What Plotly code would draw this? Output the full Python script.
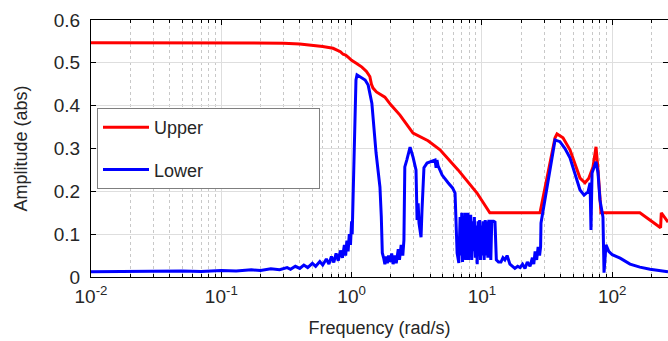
import plotly.graph_objects as go

# ---- data ----
upper_freq = [0.01, 0.1, 0.2, 0.3, 0.4, 0.5, 0.6, 0.72, 0.78, 0.82, 0.86, 0.9, 0.95, 1.0,
              1.1, 1.2, 1.3, 1.38, 1.42, 1.46, 1.55, 1.65, 1.8, 2.0, 2.35, 2.96, 3.5, 3.86,
              4.77, 6.56, 9.17, 11.5, 27.9, 30.5, 33.3, 36.4, 37.7, 39.7, 41.9, 47.4, 56.6,
              61.8, 66.0, 71.2, 73.5, 75.1, 77.8, 80.0, 82.0, 163.0, 235.0, 238.0, 268.0]
upper_amp = [0.547, 0.547, 0.547, 0.546, 0.544, 0.541, 0.538, 0.534, 0.530, 0.526, 0.520,
             0.518, 0.512, 0.506, 0.498, 0.490, 0.480, 0.468, 0.450, 0.441, 0.432, 0.427,
             0.420, 0.402, 0.378, 0.336, 0.324, 0.318, 0.297, 0.250, 0.196, 0.150, 0.150,
             0.210, 0.273, 0.325, 0.334, 0.330, 0.325, 0.297, 0.231, 0.220, 0.230, 0.257,
             0.280, 0.304, 0.250, 0.190, 0.150, 0.150, 0.115, 0.150, 0.128]

lower_freq = [0.01, 0.02, 0.03, 0.05, 0.07, 0.1, 0.13, 0.17, 0.2, 0.24, 0.28, 0.32, 0.34,
              0.37, 0.40, 0.43, 0.46, 0.5, 0.53, 0.57, 0.6, 0.64, 0.67, 0.7, 0.73, 0.76,
              0.79, 0.82, 0.85, 0.88, 0.9, 0.92, 0.94, 0.96, 0.98, 1.0, 1.01, 1.03, 1.05,
              1.08, 1.10, 1.16, 1.27, 1.34, 1.43, 1.54, 1.65, 1.69, 1.72, 1.76, 1.8, 1.84,
              1.88, 1.92, 1.97, 2.03, 2.08, 2.15, 2.2, 2.28, 2.33, 2.4, 2.47, 2.52, 2.56,
              2.65, 2.81, 2.96, 3.12, 3.18, 3.24, 3.29, 3.41, 3.47, 3.59, 3.79, 4.1, 4.37,
              4.45, 4.52, 4.6, 4.95, 5.5, 5.95, 6.22, 6.35, 6.45, 6.65,
              6.8, 6.9, 7.0, 7.1, 7.2, 7.3, 7.4, 7.5, 7.6, 7.7, 7.8, 7.9, 8.0, 8.1, 8.2,
              8.35, 8.5, 8.6, 8.75, 8.9, 9.0, 9.2, 9.34, 9.45, 9.6, 9.75, 9.9, 10.05, 10.2,
              10.4, 10.6, 10.8, 10.95, 11.1, 11.3, 11.5, 11.7, 11.9, 12.3, 12.6, 12.9,
              13.4, 14.0, 14.5, 15.0, 15.6, 16.4, 17.9, 18.8, 19.6, 20.5, 21.4, 22.3, 23.4,
              24.4, 25.0, 25.6, 26.3, 27.0, 27.7, 28.2, 28.4, 30.0, 31.6, 33.9, 36.4, 39.7,
              43.4, 47.4, 51.8, 56.6, 60.8, 65.2, 67.6, 68.7, 70.0, 72.5, 75.1, 77.8, 80.5,
              84.9, 86.5, 89.6, 94.0, 100.0, 115.0, 137.0, 163.0, 195.0, 233.0, 268.0]
lower_amp = [0.012, 0.013, 0.012, 0.014, 0.013, 0.015, 0.014, 0.017, 0.015, 0.019, 0.017,
             0.022, 0.018, 0.025, 0.020, 0.028, 0.022, 0.032, 0.025, 0.036, 0.028, 0.042,
             0.030, 0.048, 0.034, 0.055, 0.038, 0.062, 0.045, 0.075, 0.050, 0.085, 0.060,
             0.100, 0.075, 0.130, 0.100, 0.200, 0.350, 0.460, 0.472, 0.468, 0.460, 0.448,
             0.406, 0.290, 0.210, 0.140, 0.056, 0.045, 0.030, 0.048, 0.032, 0.050, 0.035,
             0.055, 0.030, 0.050, 0.032, 0.065, 0.040, 0.075, 0.050, 0.086, 0.257, 0.273,
             0.303, 0.280, 0.250, 0.133, 0.172, 0.126, 0.093, 0.157, 0.255, 0.266, 0.269,
             0.273, 0.255, 0.273, 0.260, 0.238, 0.220, 0.208, 0.196, 0.117, 0.056, 0.033,
             0.140, 0.050, 0.150, 0.035, 0.120, 0.050, 0.150, 0.040, 0.140, 0.060, 0.150,
             0.040, 0.130, 0.050, 0.145, 0.040, 0.130, 0.060, 0.140, 0.045, 0.120, 0.030,
             0.130, 0.050, 0.133, 0.040, 0.120, 0.050, 0.130, 0.040, 0.133, 0.050, 0.130,
             0.045, 0.130, 0.130, 0.040, 0.130, 0.130, 0.128, 0.040,
             0.035, 0.035, 0.045, 0.040, 0.050, 0.030, 0.020, 0.025, 0.022, 0.030, 0.020,
             0.035, 0.025, 0.045, 0.030, 0.060, 0.040, 0.070, 0.050, 0.070, 0.126, 0.170,
             0.210, 0.273, 0.320, 0.316, 0.300, 0.278, 0.243, 0.203, 0.191, 0.199, 0.220,
             0.110, 0.243, 0.257, 0.269, 0.243, 0.180, 0.140, 0.010, 0.075, 0.060, 0.052,
             0.044, 0.030, 0.023, 0.018, 0.014, 0.012]

series_names = ["Upper", "Lower"]
series_colors = ["#ff0000", "#0000ff"]
x_tick_vals = [0.01, 0.1, 1, 10, 100]
x_tick_text = ["10<sup>-2</sup>", "10<sup>-1</sup>", "10<sup>0</sup>", "10<sup>1</sup>", "10<sup>2</sup>"]
y_tick_vals = [0, 0.1, 0.2, 0.3, 0.4, 0.5, 0.6]
y_tick_text = ["0", "0.1", "0.2", "0.3", "0.4", "0.5", "0.6"]
x_title = "Frequency (rad/s)"
y_title = "Amplitude (abs)"

FONT = "Liberation Sans, Arial, sans-serif"
FS = 18
TXT = "#262626"
PAD = "\u00a0" * 22

fig = go.Figure()
for name, fx, fy, col in [(series_names[0], upper_freq, upper_amp, series_colors[0]),
                          (series_names[1], lower_freq, lower_amp, series_colors[1])]:
    fig.add_trace(go.Scatter(x=fx, y=fy, mode="lines", name=name + PAD, legendgroup=name,
                             line=dict(color=col, width=3)))

minor_vals = [m * 10.0 ** k for k in range(-2, 3) for m in range(2, 10)]

fig.update_layout(
    width=668, height=341,
    margin=dict(l=91, r=0, t=20, b=64),
    paper_bgcolor="white", plot_bgcolor="white",
    font=dict(family=FONT, size=FS, color=TXT),
    showlegend=True,
    legend=dict(x=0.0104, y=0.6576, xanchor="left", yanchor="top",
                bgcolor="white", bordercolor="#7f7f7f", borderwidth=1,
                font=dict(family=FONT, size=FS, color=TXT),
                itemwidth=46, tracegroupgap=16, traceorder="grouped"),
    xaxis=dict(type="log", range=[-2, 2.428],
               tickmode="array", tickvals=x_tick_vals, ticktext=x_tick_text,
               ticks="inside", ticklen=5, tickcolor="black",
               showline=True, linecolor="black", linewidth=1, mirror="ticks",
               showgrid=True, gridcolor="#dedede", gridwidth=1,
               zeroline=False, ticklabelstandoff=2,
               tickfont=dict(family=FONT, size=FS + 1, color=TXT),
               title=dict(text=x_title, font=dict(family=FONT, size=FS, color=TXT), standoff=15),
               minor=dict(tickmode="array", tickvals=minor_vals, ticks="inside", ticklen=3,
                          tickcolor="black", showgrid=True, gridcolor="#c8c8c8",
                          griddash="dot", gridwidth=1)),
    yaxis=dict(range=[0, 0.6], tickmode="array", tickvals=y_tick_vals, ticktext=y_tick_text,
               ticks="inside", ticklen=5, tickcolor="black",
               showline=True, linecolor="black", linewidth=1, mirror="ticks",
               showgrid=True, gridcolor="#dedede", gridwidth=1, zeroline=False,
               ticklabelstandoff=6,
               tickfont=dict(family=FONT, size=FS + 1, color=TXT),
               title=dict(text=y_title, font=dict(family=FONT, size=FS, color=TXT), standoff=21)),
)

fig.write_html("out.html")
